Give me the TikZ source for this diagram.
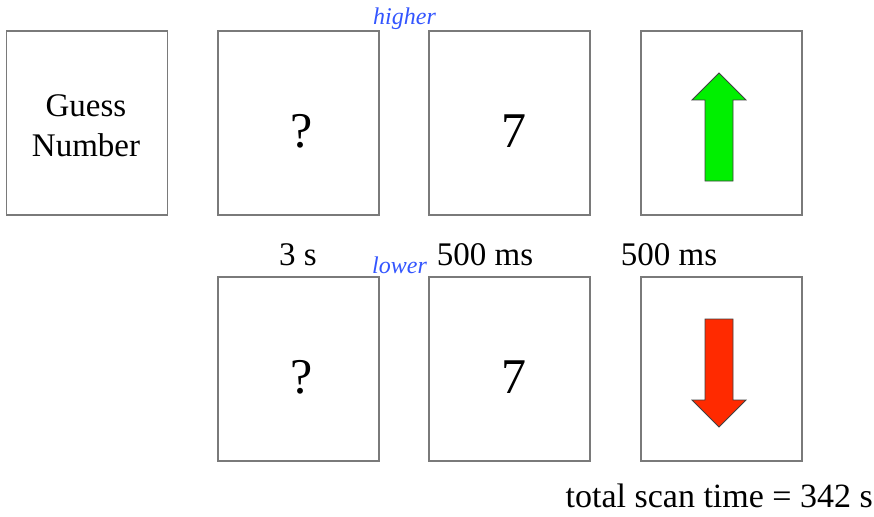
\documentclass[tikz,border=0pt]{standalone}
\usepackage{fontspec}
\setmainfont{Liberation Serif}
\definecolor{framegray}{HTML}{7A7A7A}
\definecolor{upgreen}{HTML}{00F000}
\definecolor{downred}{HTML}{FF2A00}
\definecolor{cueblue}{HTML}{3355FF}
\tikzset{
  screen/.style={draw=framegray, line width=1.4pt, fill=white, minimum width=161pt, minimum height=184pt, inner sep=0pt},
  timing/.style={anchor=base, inner sep=0pt, font=\rmfamily\fontsize{33}{38}\selectfont},
  bigsym/.style={anchor=base, inner sep=0pt, font=\rmfamily\fontsize{50}{60}\selectfont},
  cue/.style={anchor=base west, inner sep=0pt, text=cueblue, font=\rmfamily\fontsize{24}{28}\selectfont\itshape},
  blockarrow/.style={draw=black!75, line width=0.8pt, line join=miter}
}
\begin{document}
\begin{tikzpicture}[x=1pt,y=-1pt]
  \useasboundingbox (0,0) rectangle (874,516);

  % screens of the trial sequence
  \node[screen] (guess) at (87,123) {};
  \node[screen] (qtop)  at (298.5,123) {};
  \node[screen] (ntop)  at (509.5,123) {};
  \node[screen] (ftop)  at (721.5,123) {};
  \node[screen] (qbot)  at (298.5,369) {};
  \node[screen] (nbot)  at (509.5,369) {};
  \node[screen] (fbot)  at (721.5,369) {};

  % screen contents
  \node[align=center, inner sep=0pt, font=\rmfamily\fontsize{33}{40}\selectfont] (guesstext) at (86,126) {Guess\\Number};
  \node[bigsym] (qmarktop) at (302,147) {?};
  \node[bigsym] (numtop)   at (514,147) {7};
  \node[bigsym] (qmarkbot) at (302,393) {?};
  \node[bigsym] (numbot)   at (514,393) {7};

  % feedback arrows
  \draw[blockarrow, fill=upgreen]
    (705,181) -- (705,100) -- (692,100) -- (719,73) -- (746,100) -- (733,100) -- (733,181) -- cycle;
  \draw[blockarrow, fill=downred]
    (705,319) -- (705,400) -- (692,400) -- (719,427) -- (746,400) -- (733,400) -- (733,319) -- cycle;

  % cue labels
  \node[cue] (higher) at (373,25) {higher};
  \node[cue] (lower)  at (372,273) {lower};

  % durations
  \node[timing] (dq) at (298,265) {3 s};
  \node[timing] (dn) at (485,265) {500 ms};
  \node[timing] (df) at (669,265) {500 ms};

  \node[anchor=base east, inner sep=0pt, font=\rmfamily\fontsize{34}{40}\selectfont] (total) at (873,507) {total scan time = 342 s};
\end{tikzpicture}
\end{document}
